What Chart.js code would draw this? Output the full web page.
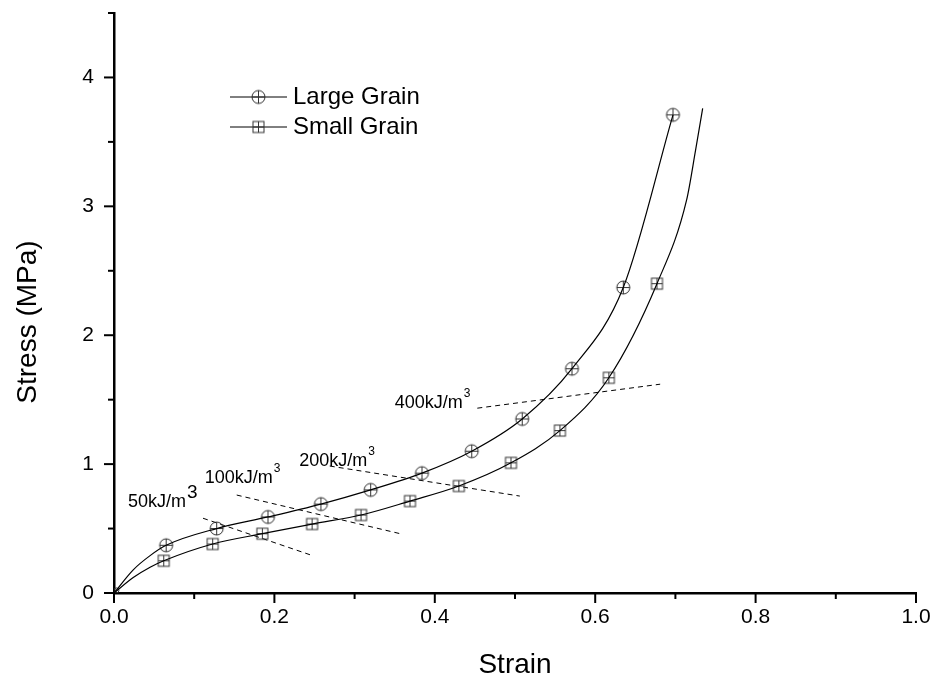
<!DOCTYPE html>
<html>
<head>
<meta charset="utf-8">
<script src="https://cdn.jsdelivr.net/npm/chart.js@4.4.1/dist/chart.umd.min.js"></script>
<style>
  html, body { margin: 0; padding: 0; background: #fff; }
  #wrap { width: 931px; height: 683px; }
</style>
</head>
<body>
<div id="wrap"><canvas id="chart" width="931" height="683"></canvas></div>
<script>
// =========================
// DATA
// =========================
const largeStrain = [0.065, 0.128, 0.192, 0.258, 0.320, 0.384, 0.446, 0.509, 0.571, 0.635, 0.697];
const largeStress = [0.37, 0.50, 0.59, 0.69, 0.80, 0.93, 1.10, 1.35, 1.74, 2.37, 3.71];

const smallStrain = [0.062, 0.123, 0.185, 0.247, 0.308, 0.369, 0.430, 0.495, 0.556, 0.617, 0.677];
const smallStress = [0.25, 0.38, 0.46, 0.535, 0.605, 0.713, 0.83, 1.01, 1.26, 1.67, 2.40];

// fitted curves
const largeFitStrain = [0, 0.024, 0.045, 0.065, 0.128, 0.192, 0.258, 0.320, 0.384, 0.446, 0.509, 0.571, 0.635, 0.697];
const largeFitStress = [0, 0.18, 0.29, 0.37, 0.50, 0.59, 0.69, 0.80, 0.93, 1.10, 1.35, 1.74, 2.37, 3.71];
const smallFitStrain = [0, 0.024, 0.045, 0.062, 0.123, 0.185, 0.247, 0.308, 0.369, 0.430, 0.495, 0.556, 0.617, 0.677, 0.714, 0.725, 0.734];
const smallFitStress = [0, 0.12, 0.20, 0.25, 0.38, 0.46, 0.535, 0.605, 0.713, 0.83, 1.01, 1.26, 1.67, 2.40, 3.05, 3.43, 3.76];

// iso-energy dashed lines
const energyNames = ["50kJ/m", "100kJ/m", "200kJ/m", "400kJ/m"];
const energyX0 = [0.111, 0.153, 0.269, 0.453];
const energyY0 = [0.58, 0.76, 0.985, 1.434];
const energyX1 = [0.249, 0.359, 0.506, 0.681];
const energyY1 = [0.287, 0.457, 0.752, 1.62];
const energyLabelX = [0.0175, 0.113, 0.231, 0.350];
const energyLabelY = [0.667, 0.853, 0.984, 1.434];

const seriesNames = ["Large Grain", "Small Grain"];

const FONT = "'Liberation Sans', Arial, sans-serif";

// =========================
// MARKERS
// =========================
function makeMarker(kind) {
  const c = document.createElement("canvas");
  c.width = 17;
  c.height = 17;
  const g = c.getContext("2d");
  g.strokeStyle = "#333";
  g.lineWidth = 1;
  if (kind === "circle") {
    g.beginPath();
    g.arc(8.5, 8.5, 6.5, 0, Math.PI * 2);
    g.stroke();
    g.beginPath();
    g.moveTo(2, 8.5); g.lineTo(15, 8.5);
    g.moveTo(8.5, 2); g.lineTo(8.5, 15);
    g.stroke();
  } else {
    g.strokeRect(3, 3, 11, 11);
    g.beginPath();
    g.moveTo(3, 8.5); g.lineTo(14, 8.5);
    g.moveTo(8.5, 3); g.lineTo(8.5, 14);
    g.stroke();
  }
  return c;
}
const circleMark = makeMarker("circle");
const squareMark = makeMarker("square");

const toPts = (xs, ys) => xs.map((x, i) => ({ x: x, y: ys[i] }));

// =========================
// DATASETS
// =========================
const datasets = [
  {
    label: "Large Grain fit",
    data: toPts(largeFitStrain, largeFitStress),
    showLine: true,
    borderColor: "#000",
    borderWidth: 1.2,
    pointRadius: 0,
    cubicInterpolationMode: "monotone"
  },
  {
    label: "Small Grain fit",
    data: toPts(smallFitStrain, smallFitStress),
    showLine: true,
    borderColor: "#000",
    borderWidth: 1.2,
    pointRadius: 0,
    cubicInterpolationMode: "monotone"
  },
  {
    label: seriesNames[0],
    data: toPts(largeStrain, largeStress),
    showLine: false,
    pointStyle: circleMark
  },
  {
    label: seriesNames[1],
    data: toPts(smallStrain, smallStress),
    showLine: false,
    pointStyle: squareMark
  },
  {
    label: "origin",
    data: [{ x: 0.003, y: 0.02 }],
    showLine: false,
    pointStyle: "circle",
    pointRadius: 2.5,
    borderColor: "#333",
    borderWidth: 1,
    backgroundColor: "rgba(0,0,0,0)"
  }
];

energyNames.forEach((n, i) => {
  datasets.push({
    label: n,
    data: [{ x: energyX0[i], y: energyY0[i] }, { x: energyX1[i], y: energyY1[i] }],
    showLine: true,
    borderColor: "#000",
    borderWidth: 1,
    borderDash: [5, 4],
    pointRadius: 0
  });
});

// =========================
// PLUGIN: ticks, titles, labels, legend
// =========================
const decorations = {
  id: "decorations",
  afterDraw(chart) {
    const ctx = chart.ctx;
    const xs = chart.scales.x;
    const ys = chart.scales.y;
    const area = chart.chartArea;
    ctx.save();

    // tick marks (major long, minor short)
    ctx.strokeStyle = "#000";
    ctx.lineWidth = 2;
    xs.ticks.forEach(t => {
      const px = xs.getPixelForValue(t.value);
      const len = t.label !== "" ? 10 : 6;
      ctx.beginPath();
      ctx.moveTo(px, area.bottom);
      ctx.lineTo(px, area.bottom + len);
      ctx.stroke();
    });
    ys.ticks.forEach(t => {
      const py = ys.getPixelForValue(t.value);
      const len = t.label !== "" ? 10 : 6;
      ctx.beginPath();
      ctx.moveTo(area.left, py);
      ctx.lineTo(area.left - len, py);
      ctx.stroke();
    });

    // axis titles
    ctx.fillStyle = "#000";
    ctx.font = "28px " + FONT;
    ctx.textAlign = "center";
    ctx.textBaseline = "middle";
    ctx.fillText("Strain", (area.left + area.right) / 2, 665);
    ctx.save();
    ctx.translate(28, 322);
    ctx.rotate(-Math.PI / 2);
    ctx.fillText("Stress (MPa)", 0, 0);
    ctx.restore();

    // energy labels
    ctx.textAlign = "left";
    ctx.textBaseline = "alphabetic";
    energyNames.forEach((n, i) => {
      const px = xs.getPixelForValue(energyLabelX[i]);
      const py = ys.getPixelForValue(energyLabelY[i]);
      ctx.font = "18px " + FONT;
      ctx.fillText(n, px, py);
      const w = ctx.measureText(n).width;
      if (i === 0) {
        ctx.font = "19px " + FONT;
        ctx.fillText("3", px + w + 1, py - 9);
      } else {
        ctx.font = "12px " + FONT;
        ctx.fillText("3", px + w + 1, py - 11);
      }
    });

    // legend
    const marks = [circleMark, squareMark];
    const rowsY = [area.top + 84, area.top + 114];
    seriesNames.forEach((n, i) => {
      const y = rowsY[i];
      const x0 = area.left + 116;
      ctx.strokeStyle = "#000";
      ctx.lineWidth = 1;
      ctx.beginPath();
      ctx.moveTo(x0, y);
      ctx.lineTo(x0 + 57, y);
      ctx.stroke();
      ctx.drawImage(marks[i], x0 + 28.5 - 8.5, y - 8.5);
      ctx.font = "24px " + FONT;
      ctx.textBaseline = "middle";
      ctx.fillText(n, x0 + 63, y);
    });

    ctx.restore();
  }
};

// =========================
// CHART
// =========================
new Chart(document.getElementById("chart"), {
  type: "scatter",
  data: { datasets: datasets },
  plugins: [decorations],
  options: {
    responsive: false,
    animation: false,
    layout: { padding: { top: 13, right: 15, left: 0, bottom: 0 } },
    plugins: {
      legend: { display: false },
      tooltip: { enabled: false }
    },
    scales: {
      x: {
        type: "linear",
        min: 0,
        max: 1.0,
        afterFit: s => {
          s.height = 90;
          s.paddingLeft = 0;
          s.paddingRight = 0;
        },
        border: { display: true, color: "#000", width: 2.5 },
        grid: { display: false, drawTicks: false },
        ticks: {
          stepSize: 0.1,
          padding: 12,
          color: "#000",
          font: { family: FONT, size: 21 },
          maxRotation: 0,
          autoSkip: false,
          callback: v => (Math.round(v * 10) % 2 === 0 ? v.toFixed(1) : "")
        }
      },
      y: {
        type: "linear",
        min: 0,
        max: 4.5,
        afterFit: s => {
          s.width = 114;
          s.paddingTop = 0;
          s.paddingBottom = 0;
        },
        border: { display: true, color: "#000", width: 2.5 },
        grid: { display: false, drawTicks: false },
        ticks: {
          stepSize: 0.5,
          padding: 20,
          color: "#000",
          font: { family: FONT, size: 21 },
          autoSkip: false,
          callback: v => (Number.isInteger(v) ? String(v) : "")
        }
      }
    }
  }
});
</script>
</body>
</html>
